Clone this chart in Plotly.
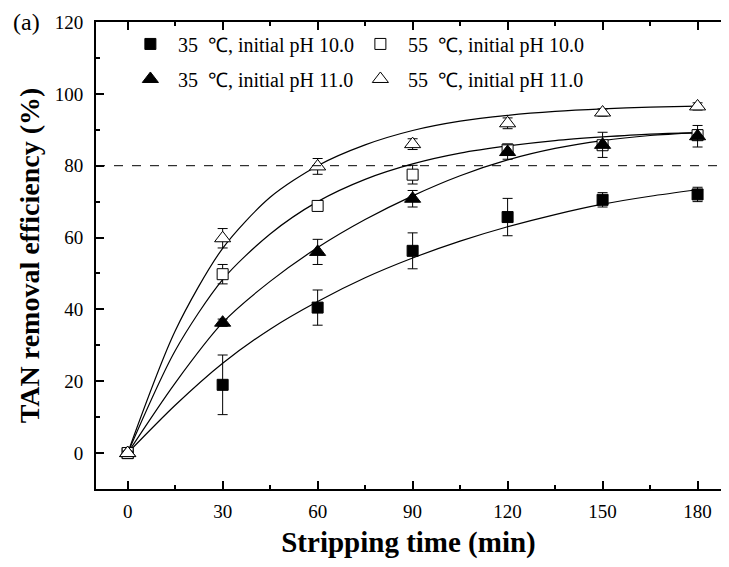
import plotly.graph_objects as go

# ---- data ----
time_pts = [0, 30, 60, 90, 120, 150, 180]

eff_35_ph10 = [0, 19.0, 40.5, 56.3, 65.7, 70.5, 72.0]
err_35_ph10 = [0.5, 8.3, 4.9, 5.0, 5.2, 2.0, 2.0]

eff_35_ph11 = [0, 36.3, 56.0, 70.8, 83.8, 85.8, 88.2]
err_35_ph11 = [0.5, 1.0, 3.5, 2.3, 2.0, 3.5, 3.0]

eff_55_ph10 = [0, 49.8, 68.8, 77.5, 84.5, 85.7, 88.5]
err_55_ph10 = [0.5, 2.7, 1.0, 2.6, 1.5, 1.0, 1.5]

eff_55_ph11 = [0, 59.8, 79.8, 86.0, 91.8, 94.8, 96.5]
err_55_ph11 = [0.5, 2.7, 2.2, 1.5, 1.5, 1.0, 1.0]

# fitted curves, every 15 min
curve_t = [0, 15, 30, 45, 60, 75, 90, 105, 120, 135, 150, 165, 180]
fit_35_ph10 = [0, 13.3, 25.0, 34.5, 42.2, 48.8, 54.3, 59.0, 63.0, 66.4, 69.3, 71.5, 73.3]
fit_35_ph11 = [0, 19.5, 36.3, 47.8, 57.2, 65.0, 71.6, 77.2, 81.6, 84.8, 87.0, 88.4, 89.2]
fit_55_ph10 = [0, 28.5, 48.3, 61.0, 70.0, 76.2, 80.5, 83.5, 85.5, 87.0, 88.0, 88.8, 89.2]
fit_55_ph11 = [0, 34.0, 57.0, 71.2, 80.0, 85.8, 89.8, 92.4, 94.0, 95.1, 95.8, 96.3, 96.6]

labels = ["35  \u2103, initial pH 10.0", "55  \u2103, initial pH 10.0",
          "35  \u2103, initial pH 11.0", "55  \u2103, initial pH 11.0"]

threshold = 80
x_ticks = [0, 30, 60, 90, 120, 150, 180]
y_ticks = [0, 20, 40, 60, 80, 100, 120]

FONT = "Liberation Serif, Times New Roman, Times, serif"

fig = go.Figure()

# fitted curves
for fit in [fit_35_ph10, fit_35_ph11, fit_55_ph10, fit_55_ph11]:
    fig.add_trace(go.Scatter(x=curve_t, y=fit, mode="lines",
                             line=dict(color="black", width=1.2, shape="spline", smoothing=0.8),
                             showlegend=False, hoverinfo="skip"))

series = [
    (eff_35_ph10, err_35_ph10, labels[0], "square", "black", 11, "legend"),
    (eff_55_ph10, err_55_ph10, labels[1], "square", "white", 11, "legend2"),
    (eff_35_ph11, err_35_ph11, labels[2], "triangle-up", "black", 14, "legend3"),
    (eff_55_ph11, err_55_ph11, labels[3], "triangle-up", "white", 14, "legend4"),
]
for vals, errs, name, sym, fill, size, leg in series:
    fig.add_trace(go.Scatter(
        x=time_pts, y=vals, mode="markers", name=name, legend=leg,
        marker=dict(symbol=sym, color=fill, size=size, line=dict(color="black", width=1)),
        error_y=dict(type="data", array=errs, visible=True, color="black", thickness=1, width=5),
    ))

fig.add_shape(type="line", xref="paper", x0=0, x1=1, yref="y", y0=threshold, y1=threshold,
              line=dict(color="black", width=1, dash="dash"))

axis_common = dict(
    showline=True, linecolor="black", linewidth=2,
    ticks="inside", ticklen=8, tickwidth=1.5, tickcolor="black",
    showgrid=False, zeroline=False, automargin=False,
    tickfont=dict(family=FONT, size=19, color="black"),
    minor=dict(ticks="inside", ticklen=4, tickwidth=1.5, tickcolor="black", showgrid=False),
)

fig.update_xaxes(range=[-10, 187.4], tickvals=x_ticks, mirror="ticks",
                 minor_dtick=15, minor_tick0=0, ticklabelstandoff=4,
                 title=dict(text="<b>Stripping time (min)</b>",
                            font=dict(family=FONT, size=29, color="black"), standoff=14),
                 **axis_common)
fig.update_yaxes(range=[-10, 120], tickvals=y_ticks, mirror=False,
                 minor_dtick=10, minor_tick0=0, ticklabelstandoff=7,
                 title=dict(text="<b>TAN removal efficiency (%)</b>",
                            font=dict(family=FONT, size=28, color="black"), standoff=7),
                 **axis_common)

legend_common = dict(orientation="v", itemwidth=45,
                     font=dict(family=FONT, size=20, color="black"),
                     bgcolor="rgba(0,0,0,0)", xanchor="left", yanchor="middle",
                     itemclick=False, itemdoubleclick=False)

row1, row2 = 0.953, 0.878
col1, col2 = 0.043, 0.411

fig.update_layout(
    width=713, height=551,
    margin=dict(l=88, r=0, t=14, b=70),
    paper_bgcolor="white", plot_bgcolor="white",
    font=dict(family=FONT, color="black"),
    legend=dict(x=col1, y=row1, **legend_common),
    legend2=dict(x=col2, y=row1, **legend_common),
    legend3=dict(x=col1, y=row2, **legend_common),
    legend4=dict(x=col2, y=row2, **legend_common),
    annotations=[dict(text="(a)", xref="paper", yref="paper", x=-0.0864, y=1.0,
                      xanchor="right", yanchor="middle", showarrow=False,
                      font=dict(family=FONT, size=24, color="black"))],
)

fig.write_html("out.html")
